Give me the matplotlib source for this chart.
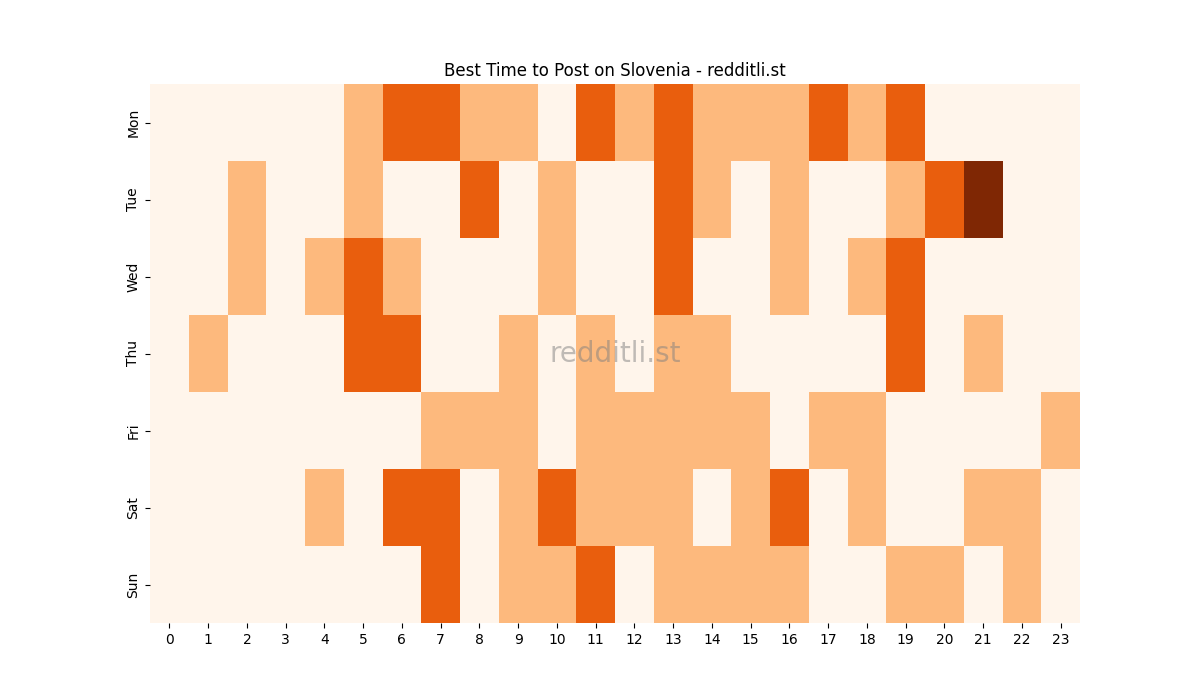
import matplotlib
matplotlib.use("Agg")
import matplotlib.pyplot as plt
import seaborn as sns
import numpy as np

days = ["Mon", "Tue", "Wed", "Thu", "Fri", "Sat", "Sun"]
hours = [str(h) for h in range(24)]
mon = [0,0,0,0,0,1,2,2,1,1,0,2,1,2,1,1,1,2,1,2,0,0,0,0]
tue = [0,0,1,0,0,1,0,0,2,0,1,0,0,2,1,0,1,0,0,1,2,3,0,0]
wed = [0,0,1,0,1,2,1,0,0,0,1,0,0,2,0,0,1,0,1,2,0,0,0,0]
thu = [0,1,0,0,0,2,2,0,0,1,0,1,0,1,1,0,0,0,0,2,0,1,0,0]
fri = [0,0,0,0,0,0,0,1,1,1,0,1,1,1,1,1,0,1,1,0,0,0,0,1]
sat = [0,0,0,0,1,0,2,2,0,1,2,1,1,1,0,1,2,0,1,0,0,1,1,0]
sun = [0,0,0,0,0,0,0,2,0,1,1,2,0,1,1,1,1,0,0,1,1,0,1,0]

data = np.array([mon, tue, wed, thu, fri, sat, sun])

fig, ax = plt.subplots(figsize=(12, 7), dpi=100)
sns.heatmap(data, cmap="Oranges", vmin=0, vmax=3, cbar=False, ax=ax,
            xticklabels=hours, yticklabels=days)
ax.set_title("Best Time to Post on Slovenia - redditli.st")
ax.text(0.5, 0.5, "redditli.st", transform=ax.transAxes, ha="center", va="center",
        fontsize=20, color="grey", alpha=0.5)
plt.yticks(rotation=90, va="center")
plt.xticks(rotation=0)
fig.savefig("out.png")
